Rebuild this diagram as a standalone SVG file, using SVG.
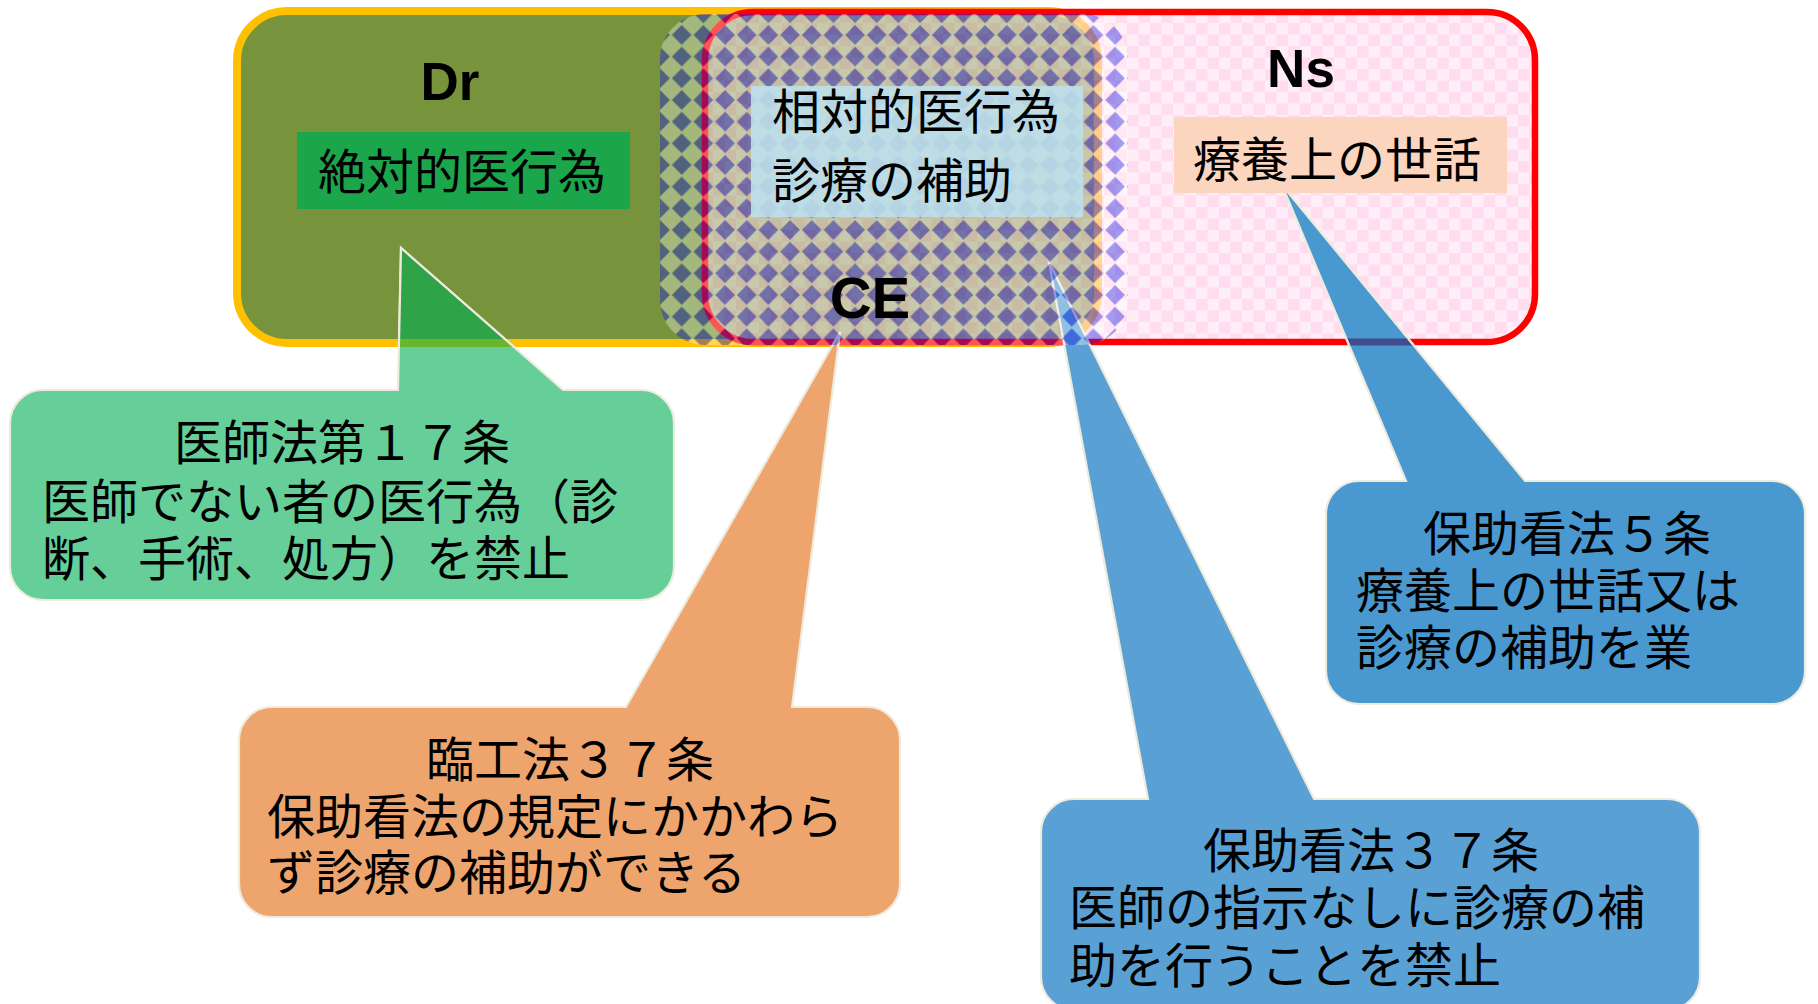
<svg xmlns="http://www.w3.org/2000/svg" width="1818" height="1004" viewBox="0 0 1818 1004">
  <style>
    .jp { font-family: "Noto Sans CJK JP", "Noto Sans CJK SC", sans-serif; font-size: 48px; fill: #000; }
    .lbl { font-family: "Liberation Sans", Arial, sans-serif; font-weight: bold; fill: #000; }
    .callout { stroke: #EEEADC; stroke-width: 2.2; stroke-linejoin: miter; }
  </style>
  <defs>
    <pattern id="pinkCheck" patternUnits="userSpaceOnUse" x="0" y="0" width="23" height="23">
      <rect width="23" height="23" fill="#FFD4ED"/>
      <rect width="11.5" height="11.5" fill="#FFA7D4"/>
      <rect x="11.5" y="11.5" width="11.5" height="11.5" fill="#FFA7D4"/>
    </pattern>
    <pattern id="diamonds" patternUnits="userSpaceOnUse" x="670.865" y="197.465" width="21.67" height="21.67">
      <path d="M0,0 H21.67 V21.67 H0 Z M10.835,1.035 L20.635,10.835 L10.835,20.635 L1.035,10.835 Z" fill="#FFFFFF" fill-opacity="0.33" fill-rule="evenodd"/>
      <path d="M10.835,1.035 L20.635,10.835 L10.835,20.635 L1.035,10.835 Z" fill="#1818E0" fill-opacity="0.4"/>
    </pattern>
    <clipPath id="drInner"><rect x="241" y="15" width="853" height="324"/></clipPath>
    <clipPath id="drBand"><rect x="230" y="339" width="880" height="8"/></clipPath>
    <clipPath id="nsBand"><rect x="1200" y="338.5" width="400" height="7"/></clipPath>
  </defs>

  <rect width="1818" height="1004" fill="#FFFFFF"/>

  <g id="node-dr">
    <rect x="237" y="11" width="861" height="332" rx="50" ry="50" fill="#77933C" stroke="#FFC000" stroke-width="8"/>
  </g>

  <g id="node-ns">
    <rect x="705" y="12" width="830" height="330" rx="48" ry="48" fill="url(#pinkCheck)" opacity="0.4"/>
    <rect x="705" y="12" width="830" height="330" rx="48" ry="48" fill="none" stroke="#FF0000" stroke-width="6.5"/>
  </g>

  <g id="node-callout-ishiho">
    <path class="callout" fill="#66CE98" d="M43,390 H398 L401,248 L563,390 H641 A33,33 0 0 1 674,423 V567 A33,33 0 0 1 641,600 H43 A33,33 0 0 1 10,567 V423 A33,33 0 0 1 43,390 Z"/>
  </g>
  <g id="node-callout-rinko">
    <path class="callout" fill="#EEA56D" d="M272,707 H626 L840,332 L792,707 H867 A33,33 0 0 1 900,740 V884 A33,33 0 0 1 867,917 H272 A33,33 0 0 1 239,884 V740 A33,33 0 0 1 272,707 Z"/>
  </g>
  <g id="node-callout-hojokan37">
    <path class="callout" fill="#59A1D5" d="M1074,799 H1148 L1049,262 L1314,799 H1667 A33,33 0 0 1 1700,832 V977 A33,33 0 0 1 1667,1010 H1074 A33,33 0 0 1 1041,977 V832 A33,33 0 0 1 1074,799 Z"/>
  </g>
  <g id="node-callout-hojokan5">
    <path class="callout" fill="#4A98D0" d="M1359,481 H1406 L1282,185 L1525,481 H1772 A33,33 0 0 1 1805,514 V671 A33,33 0 0 1 1772,704 H1359 A33,33 0 0 1 1326,671 V514 A33,33 0 0 1 1359,481 Z"/>
  </g>

  <g id="connectors">
    <polygon points="398,390 401,248 563,390" fill="#2FA348" stroke="#EEEADC" stroke-width="2.2" clip-path="url(#drInner)"/>
    <polygon points="398,390 401,248 563,390" fill="#6AB52E" stroke="#EEEADC" stroke-width="2.2" clip-path="url(#drBand)"/>
    <polygon points="1406,481 1282,185 1525,481" fill="#404C8E" stroke="#EEEADC" stroke-width="2.2" clip-path="url(#nsBand)"/>
  </g>

  <g id="node-ce">
    <rect x="660" y="14" width="468" height="331" rx="45" ry="45" fill="url(#diamonds)"/>
  </g>

  <g id="node-zettai">
    <rect x="297" y="132" width="333" height="77" fill="#1CA64B"/>
    <text class="jp" x="462" y="189" text-anchor="middle">絶対的医行為</text>
  </g>

  <g id="node-sotai">
    <rect x="751" y="86" width="332" height="131" fill="#BCDFEA" fill-opacity="0.9"/>
    <text class="jp" x="772" y="129">相対的医行為</text>
    <text class="jp" x="772" y="198">診療の補助</text>
  </g>

  <g id="node-ryoyo">
    <rect x="1174" y="117" width="333" height="76" fill="#FBD5BD"/>
    <text class="jp" x="1193" y="177">療養上の世話</text>
  </g>

  <g id="labels">
    <text class="lbl" x="450" y="100" font-size="53" text-anchor="middle">Dr</text>
    <text class="lbl" x="1301" y="87" font-size="53" text-anchor="middle">Ns</text>
    <text class="lbl" x="870" y="318" font-size="58" text-anchor="middle">CE</text>
  </g>

  <g id="text-ishiho">
    <text class="jp" x="342" y="460" text-anchor="middle">医師法第１７条</text>
    <text class="jp" x="42" y="519">医師でない者の医行為（診</text>
    <text class="jp" x="42" y="576">断、手術、処方）を禁止</text>
  </g>
  <g id="text-rinko">
    <text class="jp" x="570" y="777" text-anchor="middle">臨工法３７条</text>
    <text class="jp" x="267" y="834">保助看法の規定にかかわら</text>
    <text class="jp" x="267" y="890">ず診療の補助ができる</text>
  </g>
  <g id="text-hojokan37">
    <text class="jp" x="1371" y="868" text-anchor="middle">保助看法３７条</text>
    <text class="jp" x="1069" y="925">医師の指示なしに診療の補</text>
    <text class="jp" x="1069" y="983">助を行うことを禁止</text>
  </g>
  <g id="text-hojokan5">
    <text class="jp" x="1567" y="551" text-anchor="middle">保助看法５条</text>
    <text class="jp" x="1356" y="608">療養上の世話又は</text>
    <text class="jp" x="1356" y="665">診療の補助を業</text>
  </g>
</svg>
